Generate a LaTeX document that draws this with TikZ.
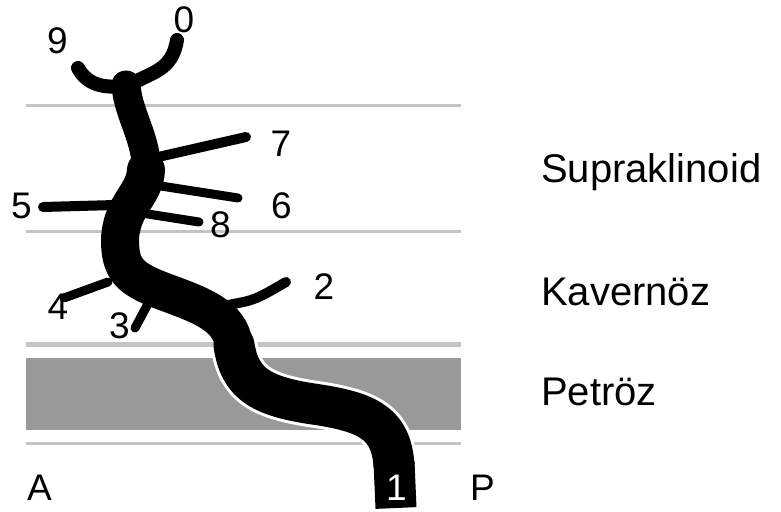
\documentclass[tikz,border=0pt]{standalone}
\usepackage{fontspec}
\setmainfont{Liberation Sans}
\usepackage{xcolor}
\definecolor{bandgray}{HTML}{999999}
\definecolor{rulegray}{HTML}{C4C4C4}

\tikzset{
	vessel/.style={line width=#1, line cap=round, line join=round, draw=black},
	halo/.style={line width=#1, line cap=butt, line join=round, draw=white},
	segrule/.style={draw=rulegray, line width=3pt},
	num/.style={inner sep=0pt, anchor=base, font=\fontsize{37}{40}\selectfont},
	region/.style={inner sep=0pt, anchor=base west, font=\fontsize{40}{44}\selectfont},
}

\begin{document}
\begin{tikzpicture}[x=1pt, y=-1pt]
	\useasboundingbox (0,0) rectangle (781,511);

	% bands
	\fill[bandgray] (26,358) rectangle (461,430);
	\draw[segrule] (26,105) -- (461,105);
	\draw[segrule] (26,231) -- (461,231);
	\draw[segrule, line width=5pt] (26,344) -- (461,344);
	\draw[segrule] (26,443) -- (461,443);

	% main trunk
	\draw[halo=47] (396,508) -- (394,465) .. controls (391,425) and (370,413) .. (320,405)
		.. controls (262,397) and (240,385) .. (234,345);
	\draw[vessel=41, line cap=butt] (396,508) -- (394,462);
	\draw[vessel=41] (394,465) .. controls (391,425) and (370,413) .. (320,405)
		.. controls (262,397) and (240,385) .. (234,345);
	\draw[vessel=38] (234,345) .. controls (230,315) and (200,305) .. (165,292)
		.. controls (130,279) and (120,270) .. (120,240)
		.. controls (121,205) and (145,195) .. (146,170);
	\draw[vessel=29] (146,172) .. controls (148,140) and (128,115) .. (126,85);

	% branches
	\draw[vessel=14] (128,86) .. controls (150,72) and (172,72) .. (177,40);
	\draw[vessel=14] (125,86) .. controls (105,88) and (88,86) .. (78,68);
	\draw[vessel=10] (145,160) -- (246,137);
	\draw[vessel=9] (148,184) -- (238,198);
	\draw[vessel=9] (135,212) -- (199,222);
	\draw[vessel=10] (115,205) -- (43,207);
	\draw[vessel=9] (108,282) -- (64,298);
	\draw[vessel=9] (150,300) -- (135,328);
	\draw[vessel=10] (228,305) .. controls (255,300) .. (286,282);

	% labels
	\node[num] (n0) at (184,33) {0};
	\node[num] (n9) at (57.5,54) {9};
	\node[num] (n7) at (281,156) {7};
	\node[num] (n6) at (281.5,218) {6};
	\node[num] (n8) at (220.5,237) {8};
	\node[num] (n5) at (21.5,218) {5};
	\node[num] (n2) at (324,299) {2};
	\node[num] (n4) at (58,319) {4};
	\node[num] (n3) at (119.5,338) {3};
	\node[num, text=white] (n1) at (396.5,500) {1};
	\node[num] (ant) at (39.5,500) {A};
	\node[num] (post) at (482.5,500) {P};

	\node[region] (supra) at (541,182) {Supraklinoid};
	\node[region] (kav) at (541,305) {Kavernöz};
	\node[region] (pet) at (541,405) {Petröz};
\end{tikzpicture}
\end{document}
